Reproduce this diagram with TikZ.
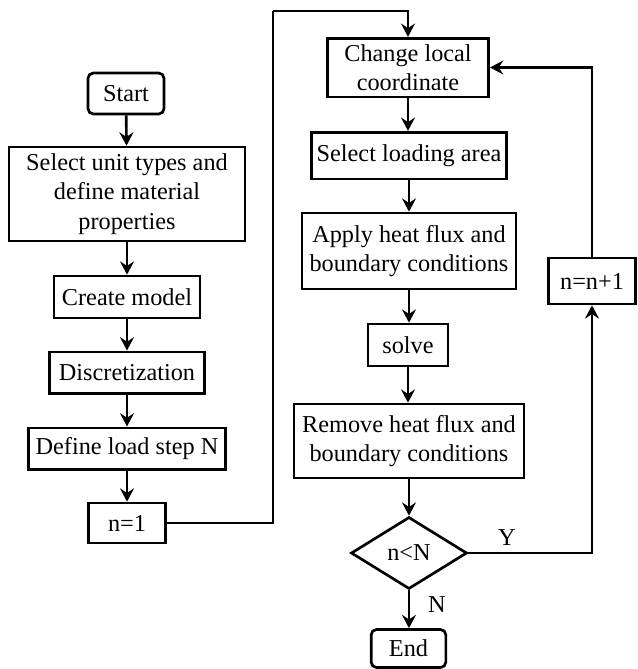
\documentclass[tikz,border=0pt]{standalone}
\usepackage{fontspec}
\setmainfont{Liberation Serif}
\usetikzlibrary{shapes.geometric,arrows.meta}
\begin{document}
\begin{tikzpicture}[x=0.75pt,y=-0.75pt,
  every node/.style={font=\fontsize{18.2}{22.2}\selectfont},
  box/.style={draw,line width=2pt,inner sep=0pt,align=center,fill=white},
  term/.style={box,rounded corners=4pt},
  dec/.style={draw,line width=2pt,diamond,inner sep=0pt,minimum width=87pt,minimum height=54pt},
  arr/.style={line width=2pt,-{Stealth[length=10pt,width=10.5pt,inset=3.5pt]}},
  lbl/.style={font=\fontsize{18.2}{22.2}\selectfont}]
\useasboundingbox (0,0) rectangle (637,669);
% left column
\node[term,minimum width=57pt,minimum height=30.75pt] (start) at (126,93.5) {Start};
\node[box,minimum width=177pt,minimum height=70.5pt] (sel) at (127,194) {Select unit types and\\define material\\properties};
\node[box,minimum width=109.5pt,minimum height=31.5pt] (cm) at (127,297) {Create model};
\node[box,minimum width=116pt,minimum height=31pt] (disc) at (127,372.5) {Discretization};
\node[box,minimum width=148pt,minimum height=31pt] (dls) at (127,448.5) {Define load step N};
\node[box,minimum width=58pt,minimum height=30pt] (n1) at (127,523) {n=1};
% right column
\node[box,minimum width=121pt,minimum height=44pt] (chg) at (408,67.5) {Change local\\coordinate};
\node[box,minimum width=146pt,minimum height=35pt] (sla) at (409,155.5) {Select loading area};
\node[box,minimum width=160.5pt,minimum height=57pt] (app) at (409,251) {Apply heat flux and\\boundary conditions};
\node[box,minimum width=60pt,minimum height=31.5pt] (solve) at (408,345) {solve};
\node[box,minimum width=172.5pt,minimum height=55.5pt] (rem) at (409,441) {Remove heat flux and\\boundary conditions};
\node[dec] (cond) at (409,553) {n<N};
\node[term,minimum width=56pt,minimum height=28.5pt] (end) at (408.5,648.5) {End};
\node[box,minimum width=65pt,minimum height=34.5pt] (inc) at (592,281) {n=n+1};
\coordinate (c1) at (273,11);
% connectors
\draw[arr] (start) -- (sel);
\draw[arr] (sel) -- (cm);
\draw[arr] (cm) -- (disc);
\draw[arr] (disc) -- (dls);
\draw[arr] (dls) -- (n1);
\draw[line width=2pt] (n1.east) -| (c1);
\draw[arr] (c1) -| (chg.north);
\draw[arr] (chg.south) -- (chg.south |- sla.north);
\draw[arr] (sla) -- (app);
\draw[arr] (app.south) -- (app.south |- solve.north);
\draw[arr] (solve.south) -- (solve.south |- rem.north);
\draw[arr] (rem) -- (cond);
\draw[arr] (cond.south) -- (cond.south |- end.north);
\draw[arr] (cond.east) -| (inc.south);
\draw[arr] (inc.north) |- (chg.east);
\node[lbl] (ylab) at (507,538) {Y};
\node[lbl] (nlab) at (437,605) {N};
\end{tikzpicture}
\end{document}
